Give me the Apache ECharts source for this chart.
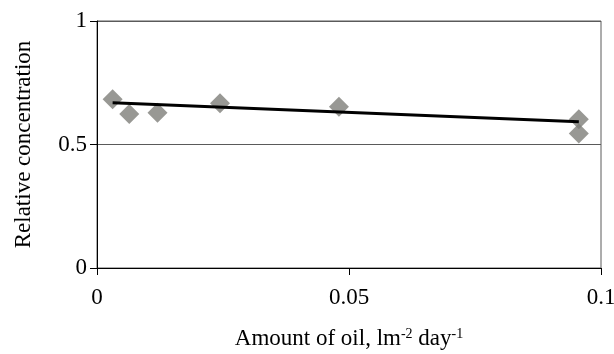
<!DOCTYPE html>
<html>
<head>
<meta charset="utf-8">
<script src="https://cdn.jsdelivr.net/npm/echarts@6/dist/echarts.min.js"></script>
<style>
  html, body { margin: 0; padding: 0; background: #fff; }
  #chart { width: 614px; height: 354px; }
</style>
</head>
<body>
<div id="chart"></div>
<script>
// Measured points: amount of oil (l m^-2 day^-1) vs relative concentration
const oilAmount = [0.0031, 0.0064, 0.0120, 0.0244, 0.0480, 0.0956, 0.0956];
const relConcentration = [0.683, 0.623, 0.629, 0.667, 0.653, 0.602, 0.545];

// Linear trend line end points
const trendX = [0.0031, 0.0956];
const trendY = [0.669, 0.592];

// Axis ticks
const xTicks = [0, 0.05, 0.1];
const yTicks = [0, 0.5, 1];

const font = 'Liberation Serif, Times New Roman, serif';

const chart = echarts.init(document.getElementById('chart'), null, { renderer: 'canvas' });

chart.setOption({
  animation: false,
  backgroundColor: '#fff',
  grid: {
    left: 97, right: 13, top: 21, bottom: 86,
    outerBoundsMode: 'none',
    containLabel: false,
    show: true, borderColor: '#5a5a5a', borderWidth: 1
  },
  xAxis: {
    type: 'value',
    min: xTicks[0], max: xTicks[xTicks.length - 1], interval: 0.05,
    axisLine: { show: true, lineStyle: { color: '#000', width: 1 } },
    axisTick: { show: true, inside: false, length: 7, lineStyle: { color: '#000' } },
    splitLine: { show: false },
    axisLabel: {
      margin: 18, color: '#000', fontFamily: font, fontSize: 23,
      formatter: v => String(+v.toFixed(3))
    },
    name: '{a|Amount of oil, lm}{s|-2}{a| day}{s|-1}',
    nameLocation: 'middle',
    nameGap: 59,
    nameTextStyle: {
      rich: {
        a: { fontFamily: font, fontSize: 23, color: '#000' },
        s: { fontFamily: font, fontSize: 14, color: '#000', verticalAlign: 'top', padding: [0, 0, 10, 0] }
      }
    }
  },
  yAxis: {
    type: 'value',
    min: yTicks[0], max: yTicks[yTicks.length - 1], interval: 0.5,
    axisLine: { show: true, lineStyle: { color: '#000', width: 1 } },
    axisTick: { show: true, inside: false, length: 7, lineStyle: { color: '#000' } },
    splitLine: { show: true, lineStyle: { color: '#5a5a5a', width: 1 } },
    axisLabel: {
      margin: 10, color: '#000', fontFamily: font, fontSize: 23,
      formatter: v => String(+v.toFixed(2))
    },
    name: 'Relative concentration',
    nameLocation: 'middle',
    nameGap: 62,
    nameTextStyle: { fontFamily: font, fontSize: 23, color: '#000' }
  },
  series: [
    {
      type: 'scatter',
      symbol: 'diamond',
      symbolSize: [20, 20],
      itemStyle: { color: '#7e7e79' },
      data: oilAmount.map((x, i) => [x, relConcentration[i]]),
      z: 2
    },
    {
      type: 'line',
      showSymbol: false,
      symbol: 'none',
      lineStyle: { color: '#000', width: 3 },
      data: trendX.map((x, i) => [x, trendY[i]]),
      z: 3
    }
  ]
});
</script>
</body>
</html>
